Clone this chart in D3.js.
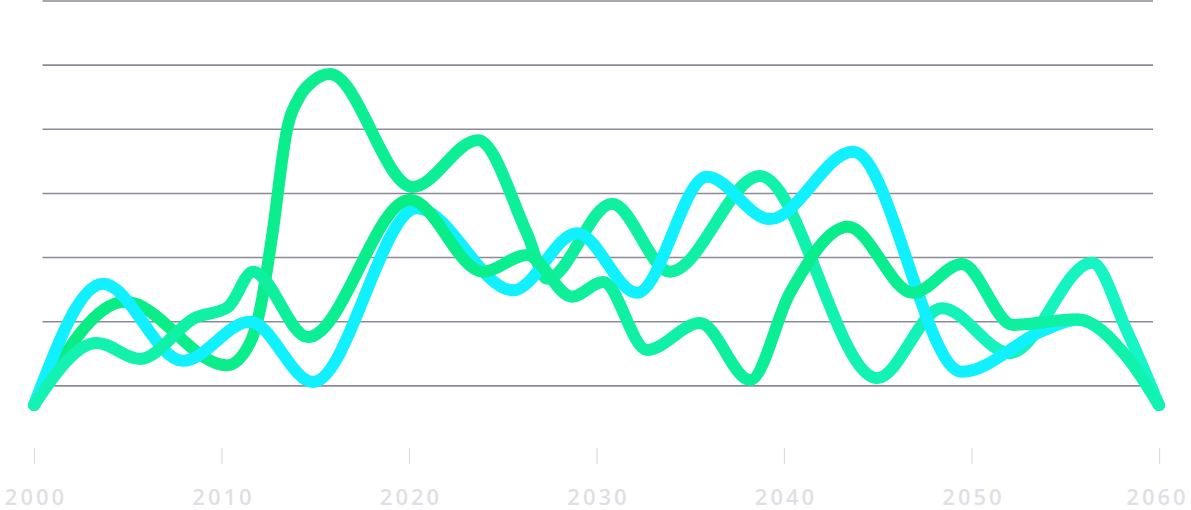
<!DOCTYPE html>
<html>
<head>
<meta charset="utf-8">
<script src="https://cdn.jsdelivr.net/npm/d3@7"></script>
<style>
  html, body { margin: 0; padding: 0; background: #ffffff; overflow: hidden; }
  svg { display: block; }
</style>
</head>
<body>
<svg id="chart" width="1191" height="510"></svg>
<script>
// ---------- data ----------
const xTickYears = [2000, 2010, 2020, 2030, 2040, 2050, 2060];
const yGridValues = [10, 20, 30, 40, 50, 60, 70];

const cyanYears  = [2000, 2003.68, 2007.95, 2011.52, 2014.88, 2020.43, 2025.55, 2028.96, 2032.16, 2035.89, 2039.25, 2043.68, 2049.49, 2053.81, 2055.63, 2058.29, 2060];
const cyanValues = [7.0, 25.9, 13.9, 20.0, 10.6, 37.7, 24.9, 33.8, 24.5, 42.6, 36.0, 46.5, 12.2, 18.6, 20.3, 14.5, 7.0];

const greenYears  = [2000, 2004.85, 2010.29, 2011.52, 2012.05, 2012.69, 2013.49, 2014.19, 2014.88, 2015.78, 2020.2, 2023.68, 2026.29, 2027.36, 2030.83, 2033.92, 2038.72, 2044.96, 2048.43, 2052.05, 2056.43, 2058.27, 2060];
const greenValues = [7.0, 23.1, 13.2, 16.7, 21.8, 33.2, 49.9, 55.2, 57.5, 58.6, 41.0, 48.3, 33.8, 26.7, 38.4, 27.8, 42.7, 11.2, 22.1, 15.1, 29.2, 18.7, 7.0];

const tealYears  = [2000, 2003.36, 2005.65, 2008.59, 2010.35, 2011.68, 2014.61, 2020.05, 2023.95, 2026.29, 2028.69, 2030.35, 2032.69, 2035.52, 2038.19, 2040.32, 2043.41, 2046.88, 2049.49, 2052.21, 2055.63, 2058.29, 2060];
const tealValues = [7.0, 16.7, 14.2, 20.6, 22.3, 27.8, 17.6, 39.0, 27.8, 30.4, 23.9, 26.2, 15.6, 19.8, 10.9, 24.5, 34.8, 24.5, 29.0, 19.5, 20.4, 14.5, 7.0];

// ---------- styles ----------
const cyanColor = "#10f0fe";
const greenStops = [[0, "#08ec80"], [0.3, "#0cee92"], [0.55, "#0ff0a2"], [0.75, "#12f2b4"], [1, "#16f5c6"]];
const tealStops  = [[0, "#14f2b4"], [0.2, "#0ef0a0"], [0.33, "#08ec84"], [0.45, "#0cef94"], [0.56, "#10f1a8"], [0.72, "#08ec88"], [0.9, "#0ef1a4"], [1, "#12f2b0"]];

const svg = d3.select("#chart");

const x = d3.scaleLinear().domain([2000, 2060]).range([34, 1159]);
const y = d3.scaleLinear().domain([0, 70]).range([450, 1]);

// gradients
const defs = svg.append("defs");
function addGradient(id, stops) {
  const g = defs.append("linearGradient")
    .attr("id", id)
    .attr("gradientUnits", "userSpaceOnUse")
    .attr("x1", x.range()[0]).attr("x2", x.range()[1])
    .attr("y1", 0).attr("y2", 0);
  g.selectAll("stop").data(stops).join("stop")
    .attr("offset", d => d[0])
    .attr("stop-color", d => d[1]);
}
addGradient("gGreen", greenStops);
addGradient("gTeal", tealStops);

// grid lines
svg.append("g")
  .selectAll("line")
  .data(yGridValues)
  .join("line")
  .attr("x1", x.range()[0] + 8.5)
  .attr("x2", x.range()[1] - 6)
  .attr("y1", d => y(d))
  .attr("y2", d => y(d))
  .attr("stroke", "#8b8b97")
  .attr("stroke-width", 1.6);

// x axis
const xAxis = d3.axisBottom(x)
  .tickValues(xTickYears)
  .tickFormat(d3.format("d"))
  .tickSize(16)
  .tickPadding(25);

const lastYear = xTickYears[xTickYears.length - 1];
const axG = svg.append("g")
  .attr("transform", `translate(0,${y(0) - 2})`)
  .call(xAxis);
axG.select(".domain").remove();
axG.selectAll(".tick line").attr("stroke", "#dcdce2").attr("stroke-width", 1.2);
axG.selectAll(".tick text")
  .attr("fill", "#dfdfe5")
  .attr("font-family", "'Open Sans', Lato, sans-serif")
  .attr("font-weight", 600)
  .attr("font-size", 22)
  .attr("letter-spacing", "3px")
  .attr("dx", d => d === lastYear ? "-2px" : "1.5px");

// lines
const line = d3.line()
  .x(d => x(d[0]))
  .y(d => y(d[1]))
  .curve(d3.curveMonotoneX);

const series = [
  { years: greenYears, values: greenValues, stroke: "url(#gGreen)" },
  { years: cyanYears,  values: cyanValues,  stroke: cyanColor },
  { years: tealYears,  values: tealValues,  stroke: "url(#gTeal)" }
];

svg.append("g")
  .selectAll("path")
  .data(series)
  .join("path")
  .attr("d", s => line(s.years.map((yr, i) => [yr, s.values[i]])))
  .attr("fill", "none")
  .attr("stroke", s => s.stroke)
  .attr("stroke-width", 12)
  .attr("stroke-linecap", "round")
  .attr("stroke-linejoin", "round");
</script>
</body>
</html>
